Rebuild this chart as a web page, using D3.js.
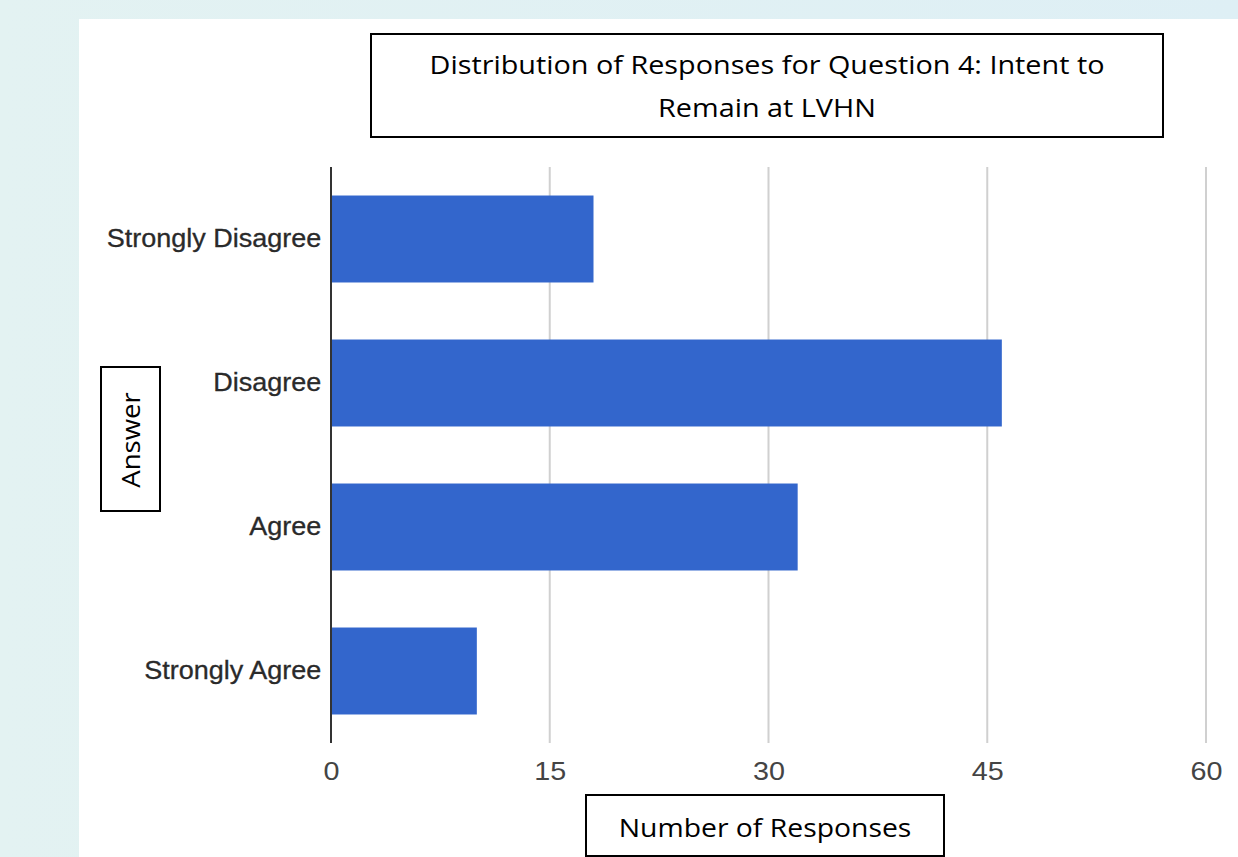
<!DOCTYPE html>
<html><head><meta charset="utf-8">
<script src="https://cdn.jsdelivr.net/npm/d3@7"></script>
<style>
html,body{margin:0;padding:0;background:#e2f0f3;}
svg{display:block;}
</style></head>
<body>
<svg id="chart" width="1238" height="857"></svg>
<script>
const categories = ["Strongly Disagree", "Disagree", "Agree", "Strongly Agree"];
const responses = [18, 46, 32, 10];
const xTicks = [0, 15, 30, 45, 60];
const titleLines = ["Distribution of Responses for Question 4: Intent to", "Remain at LVHN"];
const yAxisTitle = "Answer";
const xAxisTitle = "Number of Responses";

const svg = d3.select("#chart");
const defs = svg.append("defs");
const grad = defs.append("linearGradient").attr("id","bg").attr("x1","0").attr("x2","1").attr("y1","0").attr("y2","0");
grad.append("stop").attr("offset","0").attr("stop-color","#e3f2f2");
grad.append("stop").attr("offset","1").attr("stop-color","#deeff5");
svg.append("rect").attr("width",1238).attr("height",857).attr("fill","url(#bg)");
svg.append("rect").attr("x",79).attr("y",19).attr("width",1159).attr("height",838).attr("fill","#fff");

const x = d3.scaleLinear().domain([0, 60]).range([331, 1206]);
const y = d3.scaleBand().domain(categories).range([167, 743]).paddingInner(0.396).paddingOuter(0.198);

const axisFont = "'Liberation Sans', Arial, sans-serif";
const boxFont = "'Open Sans', 'Noto Sans', sans-serif";

// gridlines
svg.append("g").selectAll("line").data(xTicks.filter(d => d > 0)).join("line")
  .attr("x1", d => x(d)).attr("x2", d => x(d)).attr("y1", 167).attr("y2", 743)
  .attr("stroke", "#d0d0d0").attr("stroke-width", 2);

// bars
svg.append("g").selectAll("rect").data(categories).join("rect")
  .attr("x", x(0)).attr("y", d => y(d))
  .attr("width", (d, i) => x(responses[i]) - x(0))
  .attr("height", y.bandwidth())
  .attr("fill", "#3366cc");

// baseline
svg.append("line").attr("x1", x(0)).attr("x2", x(0)).attr("y1", 167).attr("y2", 743)
  .attr("stroke", "#333").attr("stroke-width", 2);

// x tick labels
const xAxis = d3.axisBottom(x).tickValues(xTicks).tickSize(0).tickPadding(0);
const gx = svg.append("g").attr("transform", "translate(0,771)").call(xAxis);
gx.select(".domain").remove();
gx.selectAll("text").attr("dy", "0.35em").attr("y", 0)
  .attr("font-family", axisFont).attr("font-size", 25)
  .attr("fill", "#444").attr("transform", "scale(1.15,1)");

// y tick labels
const yAxis = d3.axisLeft(y).tickSize(0).tickPadding(9);
const gy = svg.append("g").attr("transform", "translate(331,0)").call(yAxis);
gy.select(".domain").remove();
gy.selectAll("text").attr("font-family", axisFont).attr("font-size", 25)
  .attr("fill", "#2a2a2a").attr("stroke", "#2a2a2a").attr("stroke-width", 0.3)
  .attr("transform", "scale(1.08,1)");

// title box
svg.append("rect").attr("x", 371).attr("y", 34).attr("width", 792).attr("height", 103)
  .attr("fill", "#fff").attr("stroke", "#000").attr("stroke-width", 2);
svg.append("g").attr("transform", "translate(767,0) scale(1.108,1)")
  .selectAll("text").data(titleLines).join("text")
  .attr("x", 0).attr("y", (d, i) => 65 + i * 43).attr("dy", "0.35em")
  .attr("text-anchor", "middle").attr("font-family", boxFont)
  .attr("font-size", 26).attr("fill", "#000").text(d => d);

// y axis title box
svg.append("rect").attr("x", 101).attr("y", 367).attr("width", 59).attr("height", 144)
  .attr("fill", "#fff").attr("stroke", "#000").attr("stroke-width", 2);
svg.append("text").attr("transform", "translate(131,440) rotate(-90) scale(1.06,1)").attr("dy", "0.35em")
  .attr("text-anchor", "middle").attr("font-family", boxFont)
  .attr("font-size", 26).attr("fill", "#000").text(yAxisTitle);

// x axis title box
svg.append("rect").attr("x", 586).attr("y", 795).attr("width", 358).attr("height", 61)
  .attr("fill", "#fff").attr("stroke", "#000").attr("stroke-width", 2);
svg.append("text").attr("transform", "translate(765,828) scale(1.09,1)").attr("dy", "0.35em")
  .attr("text-anchor", "middle").attr("font-family", boxFont)
  .attr("font-size", 26).attr("fill", "#000").text(xAxisTitle);
</script>
</body></html>
